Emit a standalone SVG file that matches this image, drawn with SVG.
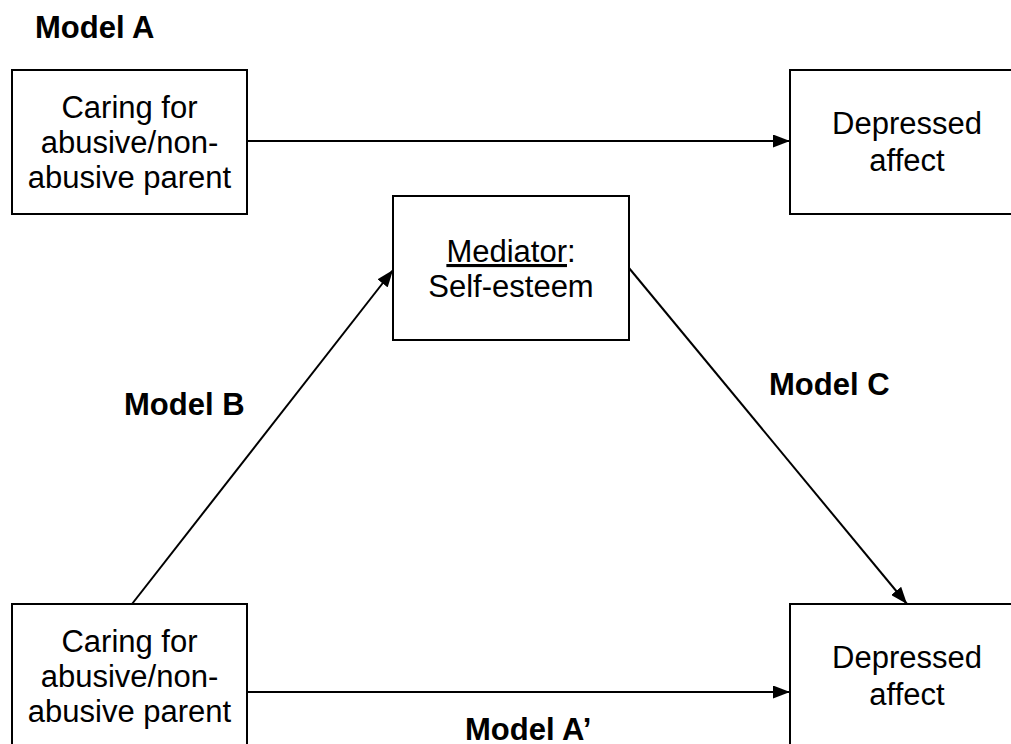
<svg xmlns="http://www.w3.org/2000/svg" width="1011" height="744" viewBox="0 0 1011 744">
<style>
.box{fill:#fff;stroke:#000;stroke-width:2}
.t{font-family:"Liberation Sans",Arial,sans-serif;font-size:31px;fill:#000;text-anchor:middle}
.lbl{font-family:"Liberation Sans",Arial,sans-serif;font-size:31px;font-weight:bold;fill:#000}
.c{stroke:#000;stroke-width:2;fill:none;marker-end:url(#ah)}
</style>
<defs>
<marker id="ah" viewBox="0 0 17 13" refX="17" refY="6.5" markerWidth="17" markerHeight="13" markerUnits="userSpaceOnUse" orient="auto">
<path d="M0,0 L17,6.5 L0,13 z" fill="#000"/>
</marker>
</defs>
<rect width="1011" height="744" fill="#fff"/>
<g id="connectors">
<line class="c" x1="247" y1="141" x2="790" y2="141"/>
<line class="c" x1="247" y1="692" x2="790" y2="692"/>
<line class="c" x1="132" y1="604" x2="393" y2="270"/>
<line class="c" x1="629" y1="268" x2="907" y2="604"/>
</g>
<g id="caring-a">
<rect class="box" x="12" y="70" width="235" height="144"/>
<text class="t" x="129.5" y="118">Caring for</text>
<text class="t" x="129.5" y="153">abusive/non-</text>
<text class="t" x="129.5" y="188">abusive parent</text>
</g>
<g id="depressed-a">
<rect class="box" x="790" y="70" width="234" height="144"/>
<text class="t" x="907" y="134">Depressed</text>
<text class="t" x="907" y="171">affect</text>
</g>
<g id="mediator">
<rect class="box" x="393" y="196" width="236" height="144"/>
<text class="t" x="511" y="262"><tspan text-decoration="underline">Mediator</tspan>:</text>
<text class="t" x="511" y="297">Self-esteem</text>
</g>
<g id="caring-b">
<rect class="box" x="12" y="604" width="235" height="144"/>
<text class="t" x="129.5" y="652">Caring for</text>
<text class="t" x="129.5" y="687">abusive/non-</text>
<text class="t" x="129.5" y="722">abusive parent</text>
</g>
<g id="depressed-b">
<rect class="box" x="790" y="604" width="234" height="144"/>
<text class="t" x="907" y="668">Depressed</text>
<text class="t" x="907" y="705">affect</text>
</g>
<g id="labels">
<text class="lbl" x="35" y="38">Model A</text>
<text class="lbl" x="124" y="415">Model B</text>
<text class="lbl" x="769" y="395">Model C</text>
<text class="lbl" x="465" y="740">Model A’</text>
</g>
</svg>
